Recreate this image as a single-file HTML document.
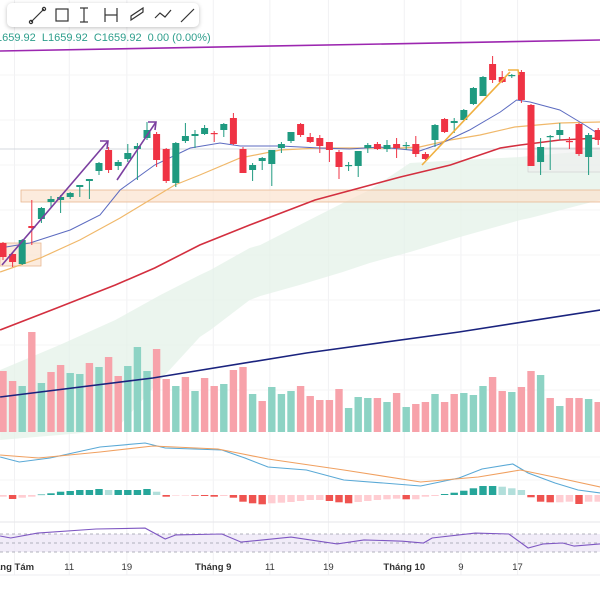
<!DOCTYPE html>
<html><head><meta charset="utf-8">
<style>
html,body{margin:0;padding:0;background:#fff;width:600px;height:600px;overflow:hidden;font-family:"Liberation Sans","Noto Sans CJK SC",sans-serif}
svg{position:absolute;left:0;top:0}
#toolbar{position:absolute;left:7px;top:3px;width:192px;height:24px;background:#fff;border-radius:5px;box-shadow:0 1px 4px rgba(0,0,0,.25)}
#legend{position:absolute;left:-4px;top:32px;font-size:11px;color:#2e9e8c;white-space:nowrap}
</style></head><body>
<svg id="chart" width="600" height="600"></svg>
<div id="toolbar">
<svg width="192" height="24" style="position:absolute;left:0;top:0" stroke="#333" fill="none" stroke-width="1.2">
<g><line x1="24" y1="19" x2="37" y2="6"/><circle cx="24" cy="19" r="1.6"/><circle cx="37" cy="6" r="1.6"/></g>
<g><rect x="49" y="6" width="12" height="12"/></g>
<g><line x1="77" y1="5" x2="77" y2="19"/><line x1="73" y1="5" x2="81" y2="5"/><line x1="73" y1="19" x2="81" y2="19"/></g>
<g><line x1="98" y1="5" x2="98" y2="19"/><line x1="110" y1="5" x2="110" y2="19"/><line x1="98" y1="12" x2="110" y2="12"/></g>
<g><path d="M124 17 L136 9 L136 5 L124 13 Z"/></g>
<g><path d="M148 15 L153 10 L158 14 L164 7"/></g>
<g><line x1="174" y1="19" x2="187" y2="6"/></g>
</svg></div>
<div id="legend">1659.92 &nbsp;L1659.92 &nbsp;C1659.92 &nbsp;0.00 (0.00%)</div>
<script>
const opens=[1517,1506,1496,1534,1541,1558,1560,1563,1573,1579,1589,1610,1594,1601,1611,1622,1626,1611,1577,1619,1624,1626,1627,1630,1642,1611,1590,1599,1596,1612,1619,1636,1623,1622,1618,1608,1594,1594,1612,1616,1611,1616,1614,1616,1606,1620,1641,1637,1640,1656,1664,1696,1683,1684,1688,1655,1598,1623,1625,1619,1636,1603,1630];
const highs=[1518,1508,1521,1560,1553,1564,1565,1568,1575,1581,1598,1613,1600,1616,1617,1638,1628,1612,1618,1637,1630,1635,1629,1637,1647,1613,1597,1603,1610,1618,1628,1637,1627,1625,1618,1610,1598,1609,1617,1618,1620,1622,1618,1624,1608,1636,1642,1642,1651,1673,1684,1704,1689,1686,1690,1656,1622,1625,1637,1623,1637,1627,1632];
const lows=[1500,1493,1495,1515,1537,1553,1547,1561,1563,1561,1585,1587,1590,1598,1580,1620,1593,1577,1573,1617,1612,1625,1618,1623,1615,1587,1579,1590,1574,1607,1617,1623,1617,1607,1598,1581,1589,1583,1607,1610,1608,1602,1610,1603,1600,1613,1627,1627,1639,1655,1664,1677,1677,1682,1657,1594,1585,1590,1620,1611,1604,1585,1615];
const closes=[1503,1498,1520,1532,1552,1561,1563,1567,1575,1581,1597,1590,1598,1607,1614,1630,1600,1579,1617,1624,1626,1632,1626,1636,1616,1587,1595,1602,1610,1616,1628,1625,1618,1614,1610,1593,1595,1609,1615,1611,1615,1612,1615,1606,1601,1635,1628,1639,1650,1672,1683,1680,1678,1685,1660,1594,1613,1624,1630,1618,1606,1625,1620];
const volumes=[61,51,46,100,49,60,67,59,58,69,65,75,56,66,85,61,83,53,46,55,41,54,46,48,62,65,38,31,45,38,41,46,36,32,32,43,24,35,34,34,30,39,25,28,30,38,30,38,39,37,46,55,41,40,45,61,57,34,26,34,34,33,30];
const volUp=[0,0,1,0,1,0,0,1,1,0,1,0,0,1,1,1,0,0,1,0,1,0,0,1,0,0,1,0,1,1,1,0,0,0,0,0,1,1,1,0,1,0,1,0,0,1,0,0,1,1,1,0,0,1,0,0,1,0,1,0,0,1,0];
const macdHist=[-1.7,-4,-2.7,-1.7,0.5,1.7,3.3,4,5,5,6,5,5,5,5,6,3.3,-1.7,-0.3,-0.3,-0.7,-1,-1.7,-1,-2.7,-6.7,-8.3,-9.3,-8.3,-7.7,-7,-6,-5,-5,-6,-7.3,-8.3,-7,-6,-5,-4.3,-3.7,-4.3,-4.3,-1.7,-1,1,2.3,4.3,6.7,9,9,8.3,6.7,5,-2.3,-6.7,-7.3,-7.3,-6.7,-9,-6.7,-6.7];
const ma10Idx=[-0.3,2.8,7,10.1,12.2,15.8,19.5,22.6,24.7,28.9,33,36.1,39.3,43.4,45.5,48.6,51.8,53.5,54.9,58,60.6,62.2];
const ma10Val=[1512,1517,1530,1545,1570,1595,1612,1617,1614,1614,1612,1611,1613,1609,1616,1630,1648,1660,1658,1650,1635,1625];
const ma20Idx=[-0.3,3.9,8,12.2,15.3,17.9,20.5,24.7,28.9,33,41.4,43.4,46.6,49.7,53.3,58,62.2];
const ma20Val=[1488,1502,1520,1542,1560,1575,1585,1602,1610,1612,1612,1613,1620,1625,1633,1637,1638];
const ma50Idx=[-0.3,5.6,11.7,15.8,20.5,25.7,32.5,41.4,46.6,51.8,53.9,58,62.2];
const ma50Val=[1430,1452,1475,1492,1515,1535,1560,1583,1595,1612,1615,1620,1622];
const ma200Idx=[-0.3,15.6,31.6,47.5,62.2];
const ma200Val=[1363,1382,1407,1428,1450];
const cloudIdx=[-0.3,5.9,11.7,16.4,20.5,21.6,25.7,26.8,30.9,35.4,38.2,42.4,47.6,53.9,54.9,62.2];
const cloudTop=[1390,1415,1440,1465,1485,1490,1512,1515,1535,1557,1570,1597,1600,1603,1604,1610];
const cloudBot=[1320,1325,1330,1380,1423,1430,1460,1464,1475,1488,1497,1508,1523,1540,1542,1560];
const macdIdx=[-0.3,1.7,4.9,10.1,14.8,16.9,22.8,25.2,27.6,31.6,35.5,39.6,43.5,47.5,49.9,53.1,54.7,57.5,59.9,62.2];
const macdVal=[38,33,37,48,52,47,45,37,28,25,15,12,9,17,26,31,22,12,5,2];
const signalIdx=[-0.3,3.7,10.1,15.6,22.4,27.6,35.5,43.5,49.5,53.9,57.9,62.2];
const signalVal=[40,37,43,49,46,36,25,13,18,25,17,8];
const rsiIdx=[-0.3,0.8,3.6,9.7,14.8,16.9,18,22.8,24.8,30,34.8,37.6,41.6,43.8,44.7,49.2,52.7,54.7,56.3,58.3,59.5,62.2];
const rsiVal=[65.6,61,72,81,83,59,68,70,52,63,48,57,54,50,61,72,70,39,48,50,43,48];
const timeLabels=["áng Tám","11","19","Tháng 9","11","19","Tháng 10","9","17"];
const timeIdx=[1.2,6.9,12.9,21.9,27.8,33.9,41.8,47.7,53.6];
const timeBold=[1,0,0,1,0,0,1,0,0];

const NS="http://www.w3.org/2000/svg";
const svg=document.getElementById('chart');
const xS=i=>3+9.6*i;
const yS=p=>1760-p;
const volY=v=>432-v;
const macdY=v=>495-v;
const rsiY=r=>543-(r-50)*0.45;
function mk(tag,attrs,parent){const e=document.createElementNS(NS,tag);for(const k in attrs)e.setAttribute(k,attrs[k]);(parent||svg).appendChild(e);return e;}
function pts(idx,val,f){return idx.map((d,k)=>xS(d).toFixed(1)+','+f(val[k]).toFixed(1)).join(' ');}

// grid
const grid=mk('g',{});


timeIdx.forEach(t=>mk('line',{x1:xS(t),x2:xS(t),y1:0,y2:575,stroke:'#f1f1f3','stroke-width':1},grid));
[75,120,165,210,255,300,345,390,457,480].forEach(y=>mk('line',{x1:0,x2:600,y1:y,y2:y,stroke:'#f4f4f6','stroke-width':1},grid));
mk('line',{x1:0,x2:600,y1:522,y2:522,stroke:'#e6e6ea'},grid);
mk('line',{x1:0,x2:600,y1:575,y2:575,stroke:'#ececf0'},grid);

// cloud
const cloud=mk('polygon',{points:pts(cloudIdx,cloudTop,yS)+' '+pts(cloudIdx.slice().reverse(),cloudBot.slice().reverse(),yS),fill:'#e4f2e8','fill-opacity':0.75});



// zones
const z1=mk('rect',{x:21,y:190,width:590,height:12,fill:'#fbe3cf','fill-opacity':0.7,stroke:'#e8b892','stroke-width':0.8});


const z2=mk('rect',{x:0,y:243,width:41,height:23,fill:'#fbe3cf','fill-opacity':0.7,stroke:'#e8b892','stroke-width':0.8});


const z3=mk('rect',{x:528,y:148,width:75,height:24,fill:'#eeeeee','fill-opacity':0.6,stroke:'#ccc','stroke-width':0.6});


const hl=mk('line',{x1:0,x2:600,y1:149,y2:149,stroke:'#c8ccd4','stroke-width':0.8});


const pl=mk('line',{x1:0,y1:51,x2:600,y2:40,stroke:'#9c27b0','stroke-width':1.6});



// volume
volumes.forEach((v,i)=>{
 const r=mk('rect',{x:xS(i)-3.7,y:volY(v),width:7.4,height:v,fill:volUp[i]?'#8dd3c4':'#f7a2aa'});
 
 
});

// MAs
function line(idx,val,color,w,name){const l=mk('polyline',{points:pts(idx,val,yS),fill:'none',stroke:color,'stroke-width':w});}
line(ma200Idx,ma200Val,'#1a237e',1.6,'ma200-line');
line(ma50Idx,ma50Val,'#d32f3f',1.6,'ma50-line');
line(ma20Idx,ma20Val,'#f0b86a',1.2,'ma20-line');
line(ma10Idx,ma10Val,'#5c6bc0',1,'ma10-line');

// candles
closes.forEach((c,i)=>{
 const o=opens[i],up=c>=o,col=up?'#1f9a80':'#ef3344';
 const g=mk('g',{});
 
 
 mk('line',{x1:xS(i),x2:xS(i),y1:yS(highs[i]),y2:yS(lows[i]),stroke:col,'stroke-width':1},g);
 const top=yS(Math.max(o,c)),h=Math.max(1.2,Math.abs(o-c));
 mk('rect',{x:xS(i)-3.5,y:top,width:7,height:h,fill:col},g);
});

// drawings
const dr=mk('g',{fill:'none','stroke-width':1.6});


function arrow(x1,y1,x2,y2,c){mk('line',{x1,y1,x2,y2,stroke:c},dr);const a=Math.atan2(y2-y1,x2-x1);[2.6,-2.6].forEach(s=>mk('line',{x1:x2,y1:y2,x2:x2-7*Math.cos(a+s*0.2),y2:y2-7*Math.sin(a+s*0.2),stroke:c},dr));mk('line',{x1:x2,y1:y2,x2:x2-7,y2:y2,stroke:c},dr);}
mk('line',{x1:2,y1:265,x2:108,y2:141,stroke:'#7b3fa0'},dr);
mk('polyline',{points:'100,141 108,141 107,149',stroke:'#7b3fa0'},dr);
mk('line',{x1:117,y1:180,x2:156,y2:122,stroke:'#7b3fa0'},dr);
mk('polyline',{points:'148,122 156,122 155,130',stroke:'#7b3fa0'},dr);
mk('line',{x1:422,y1:165,x2:510,y2:72,stroke:'#f0b040'},dr);
mk('polyline',{points:'508,70 518,70 519,75',stroke:'#f0b040'},dr);

// MACD
macdHist.forEach((v,i)=>{
 const prev=i?macdHist[i-1]:v;
 const col=v>=0?(v>=prev?'#26a69a':'#b2dfdb'):(v<prev?'#ef5350':'#ffcdd2');
 const r=mk('rect',{x:xS(i)-3.7,y:v>=0?macdY(v):495,width:7.4,height:Math.max(0.6,Math.abs(v)),fill:col});
 
 
});
const ml=mk('polyline',{points:pts(macdIdx,macdVal,macdY),fill:'none',stroke:'#5aa9d6','stroke-width':1.1});


const sl=mk('polyline',{points:pts(signalIdx,signalVal,macdY),fill:'none',stroke:'#f0a060','stroke-width':1.1});



// RSI
const rb=mk('rect',{x:0,y:rsiY(70),width:600,height:rsiY(30)-rsiY(70),fill:'#ede7f6','fill-opacity':0.8});


[70,50,30].forEach(v=>{const l=mk('line',{x1:0,x2:600,y1:rsiY(v),y2:rsiY(v),stroke:'#9a9aa8','stroke-dasharray':'3,3','stroke-width':0.8});});
const rl=mk('polyline',{points:pts(rsiIdx,rsiVal,rsiY),fill:'none',stroke:'#7e57c2','stroke-width':1.1});



// time axis
timeLabels.forEach((t,k)=>{
 const tx=mk('text',{x:xS(timeIdx[k]),y:570,'text-anchor':'middle','font-size':9.5,'font-weight':timeBold[k]?'bold':'normal',fill:'#333'});
 tx.textContent=t;
 
 
});
</script>
</body></html>
